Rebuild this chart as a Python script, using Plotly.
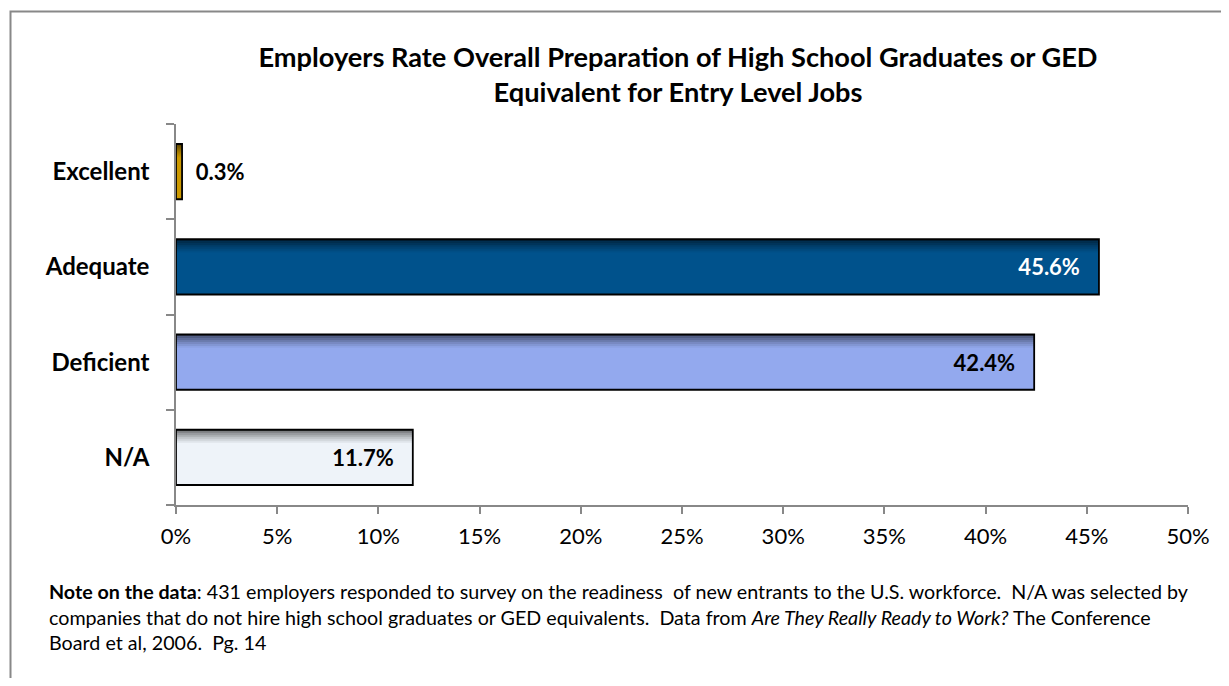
import plotly.graph_objects as go

categories = ["Excellent", "Adequate", "Deficient", "N/A"]
values = [0.3, 45.6, 42.4, 11.7]
labels = ["0.3%", "45.6%", "42.4%", "11.7%"]
bar_colors = ["#CC9900", "#00528C", "#93A9EE", "#EEF3F9"]
label_colors = ["#000000", "#FFFFFF", "#000000", "#000000"]
label_positions = ["outside", "inside", "inside", "inside"]
x_ticks = [0, 5, 10, 15, 20, 25, 30, 35, 40, 45, 50]
x_tick_labels = [f"{t}%" for t in x_ticks]

FONT = "Lato"
BAR_W = 0.58

# page body has an 8px margin; figure is sized/positioned to compensate
W, H = 1213, 670
L, R, T, B = 168, 33, 116, 173
PW, PH = W - L - R, H - T - B


def px(xp):
    return (xp - L) / PW


def py(yp):
    return (H - B - yp) / PH


fig = go.Figure()

# main bars
fig.add_trace(go.Bar(
    y=categories, x=values, orientation="h", width=BAR_W,
    marker=dict(color=bar_colors, line=dict(width=0)),
    hoverinfo="skip", showlegend=False,
))

# top shading (gradient imitation)
n_strips = 7
strip = 0.02
for i in range(n_strips):
    op = 0.55 * (1 - i / n_strips) ** 1.3
    fig.add_trace(go.Bar(
        y=categories, x=values, orientation="h", width=strip,
        offset=BAR_W / 2 - (i + 1) * strip,
        marker=dict(color=f"rgba(0,0,0,{op:.3f})", line=dict(width=0)),
        hoverinfo="skip", showlegend=False,
    ))

# outlines + labels
label_texts = ["\u00a0\u00a0" + l if p == "outside" else l + "\u00a0\u00a0\u00a0"
               for l, p in zip(labels, label_positions)]
fig.add_trace(go.Bar(
    y=categories, x=values, orientation="h", width=BAR_W,
    marker=dict(color="rgba(0,0,0,0)", line=dict(color="#000000", width=1.8)),
    text=label_texts, textposition=label_positions,
    insidetextanchor="end",
    textfont=dict(family=FONT, size=22, color=label_colors),
    outsidetextfont=dict(family=FONT, size=22, color=label_colors),
    insidetextfont=dict(family=FONT, size=22, color=label_colors),
    texttemplate="<b>%{text}</b>", cliponaxis=False,
    hoverinfo="skip", showlegend=False,
))

fig.update_layout(
    width=W, height=H,
    barmode="overlay",
    paper_bgcolor="white", plot_bgcolor="white",
    margin=dict(l=L, r=R, t=T, b=B, autoexpand=False),
    title=dict(
        text="<b>Employers Rate Overall Preparation of High School Graduates or GED<br>Equivalent for Entry Level Jobs</b>",
        x=(678 - 8 - L) / PW, xref="paper", xanchor="center", y=1 - 59 / H, yref="container", yanchor="middle",
        font=dict(family=FONT, size=27.2, color="#000000"),
    ),
    xaxis=dict(
        range=[0, 50], tickvals=x_ticks, ticktext=x_tick_labels,
        showgrid=False, zeroline=False,
        showline=True, linecolor="#888888", linewidth=1.5,
        ticks="outside", ticklen=7, tickcolor="#888888", tickwidth=1.5,
        ticklabelstandoff=4,
        tickfont=dict(family=FONT, size=22, color="#000000"),
        fixedrange=True,
    ),
    yaxis=dict(
        categoryorder="array", categoryarray=categories[::-1],
        showgrid=False, zeroline=False,
        showline=True, linecolor="#888888", linewidth=1.5,
        ticks="outside", ticklen=8, tickcolor="#888888", tickwidth=1.5,
        tickson="boundaries",
        ticklabelstandoff=20,
        tickfont=dict(family=FONT, size=24, color="#000000"),
        tickprefix="<b>", ticksuffix="</b>",
        fixedrange=True,
    ),
    shapes=[dict(
        type="rect", xref="paper", yref="paper",
        x0=px(2.5), x1=px(1400),
        y0=py(900), y1=py(3.5),
        line=dict(color="#888888", width=2), fillcolor="rgba(0,0,0,0)", layer="below",
    )],
    annotations=[dict(
        xref="paper", yref="paper", x=px(39), y=py(570),
        xanchor="left", yanchor="top", align="left", showarrow=False,
        text=("<b>Note on the data</b>: 431 employers responded to survey on the readiness  of new entrants to the U.S. workforce.  N/A was selected by<br>"
              "companies that do not hire high school graduates or GED equivalents.  Data from <i>Are They Really Ready to Work?</i> The Conference<br>"
              "Board et al, 2006.  Pg. 14"),
        font=dict(family=FONT, size=19.7, color="#000000"),
    )],
)

fig.write_html("out.html")
